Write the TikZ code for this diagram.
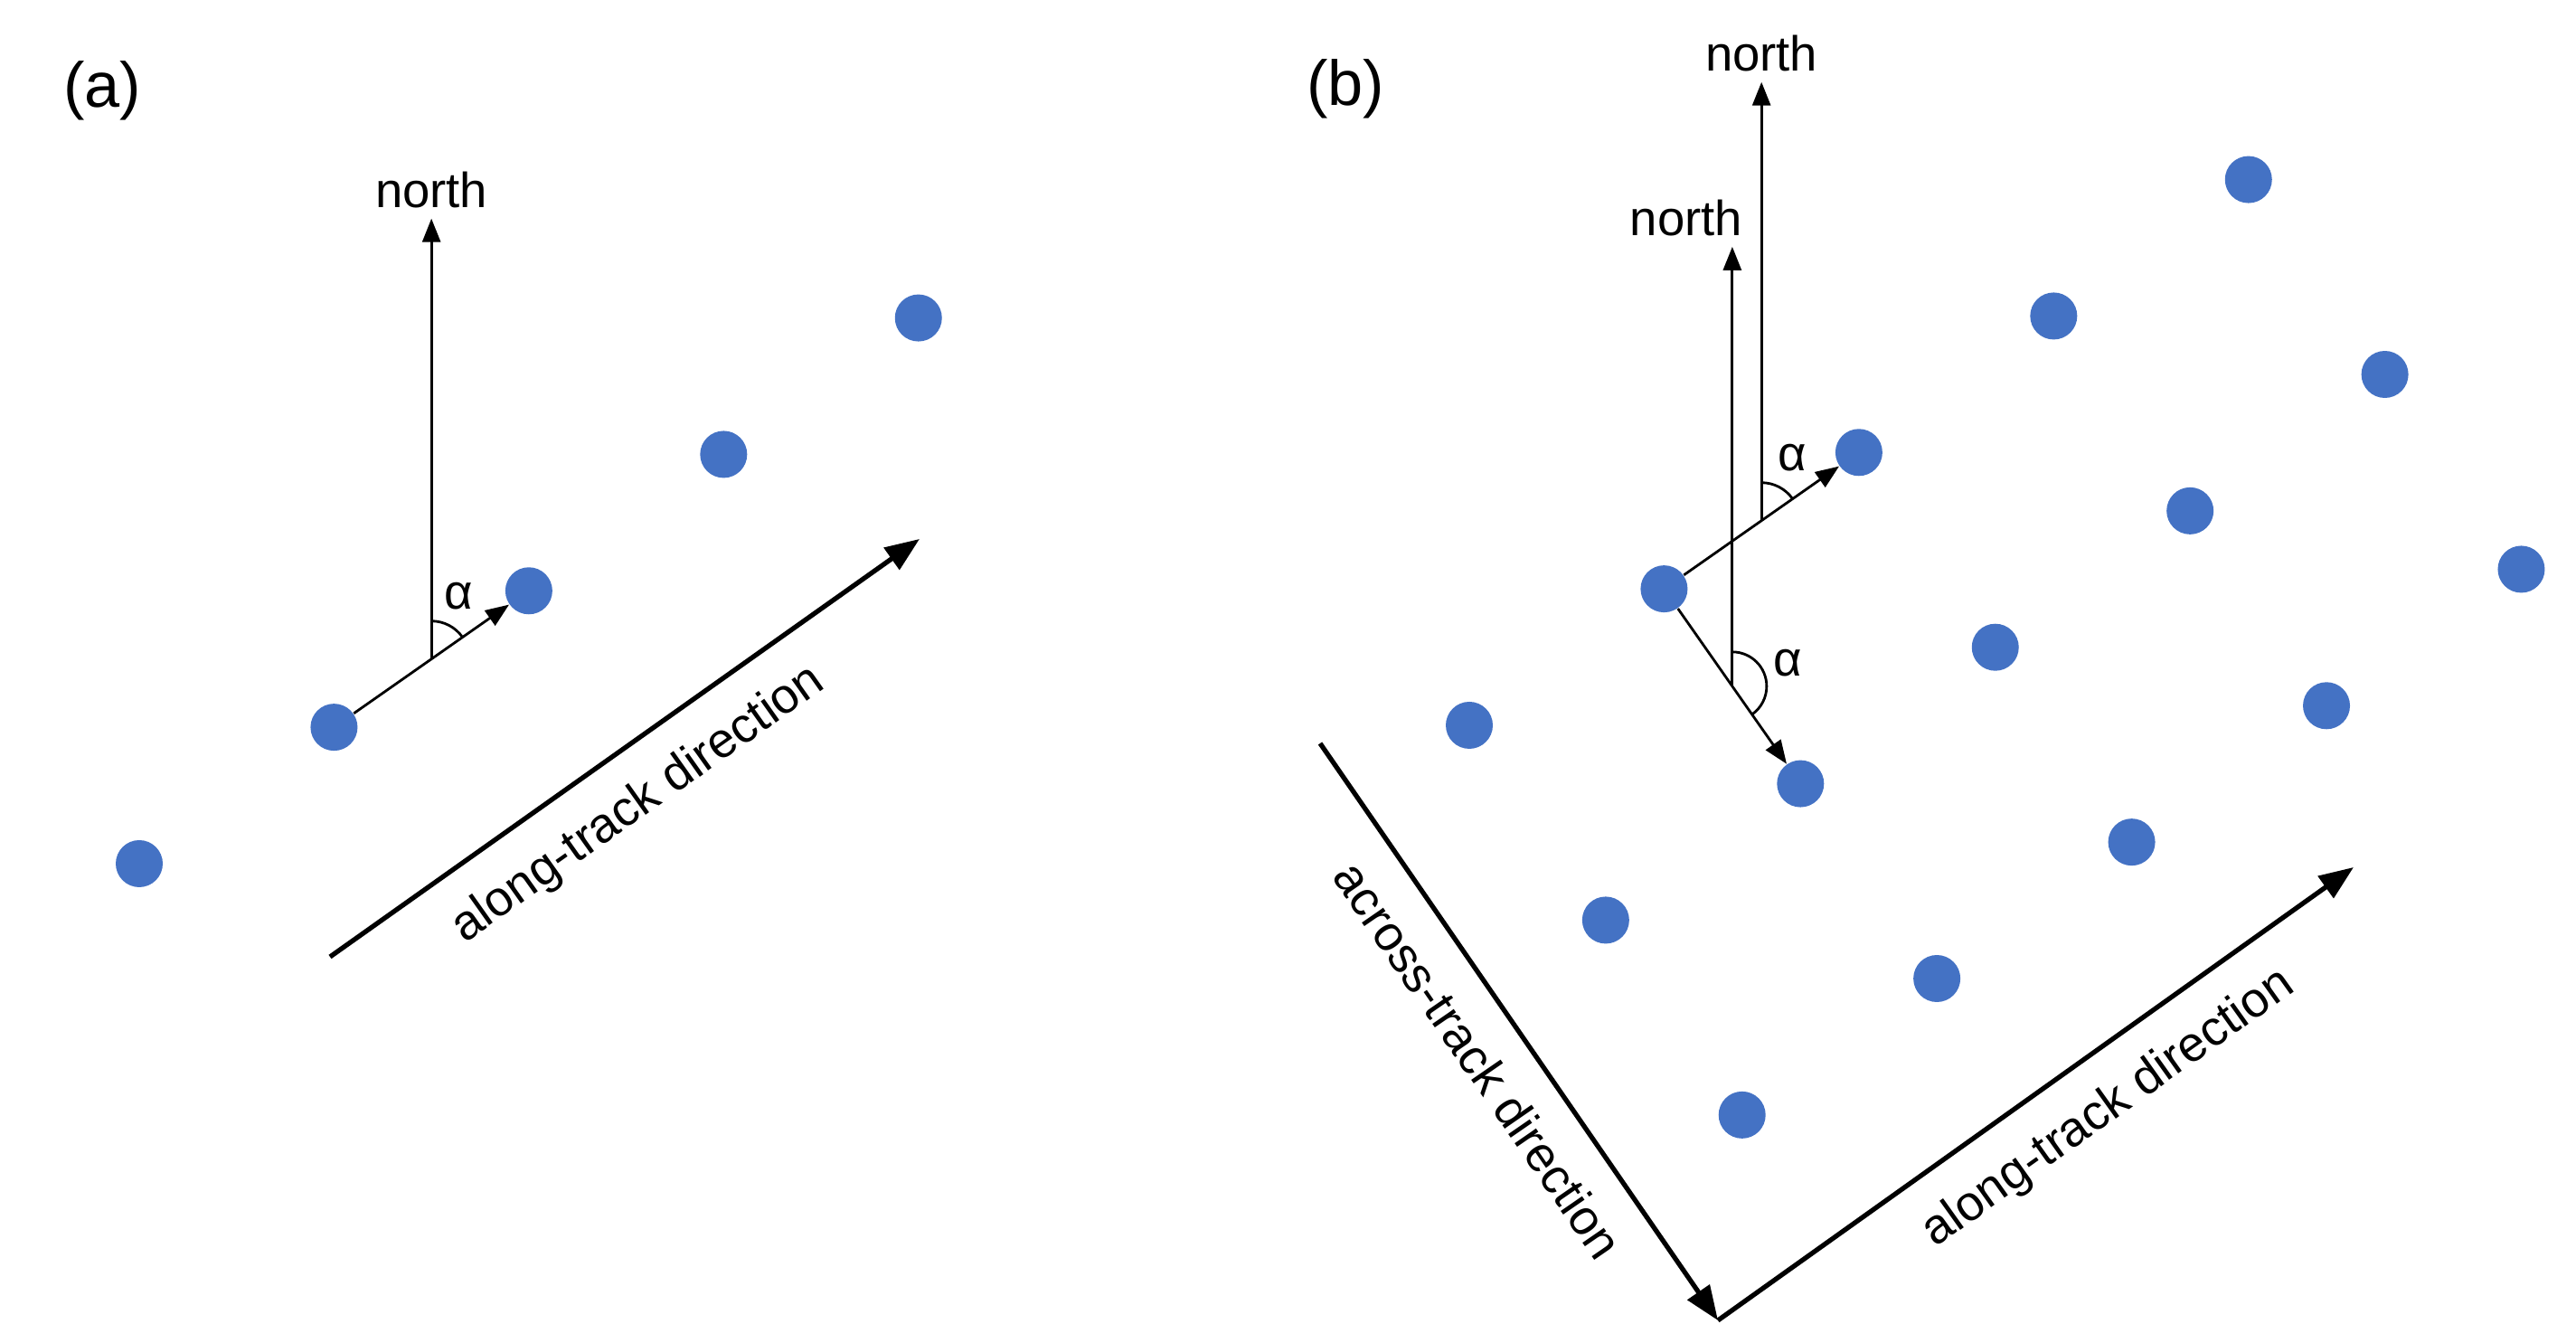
\documentclass[tikz,border=0pt]{standalone}
\usepackage{fontspec}
\setmainfont{Liberation Sans}
\usetikzlibrary{
	arrows.meta,
	positioning,
	calc
}
\definecolor{dotblue}{RGB}{68,114,196}

\begin{document}
\begin{tikzpicture}[
	dot/.style={circle, fill=dotblue, inner sep=0pt, minimum size=0.52cm},
	lbl/.style={font=\fontsize{15.5}{18}\selectfont},
	thinarrow/.style={line width=0.8pt, -{Triangle[length=0.26cm, width=0.2cm]}},
	trackarrow/.style={line width=1.5pt, -{Triangle[length=0.38cm, width=0.29cm]}},
	trackdir/.style={lbl, sloped, below, inner ysep=0.32cm},
	anglearc/.style={line width=0.8pt}
	]

		\useasboundingbox (0,0) rectangle (28.49,14.85);

		\node[font=\fontsize{20}{24}\selectfont] (La) at (1.13,13.85) {(a)};

		\coordinate (A0) at (1.54,5.30);
		\foreach \i in {0,...,4}
			\node[dot] (P\i) at ($(A0)+\i*(35:2.63)$) {};

		\draw[thinarrow] (P1) -- (P2);
		\coordinate (N1) at ($(P1)!.5!(P2)$);
		\coordinate [above=4.87 of N1] (N1t);
		\draw[thinarrow] (N1) -- (N1t) node[lbl, above, inner sep=3pt] {north};
		\draw[anglearc] ($(N1)+(90:0.42)$) arc[start angle=90, end angle=35, radius=0.42];
		\node[lbl] (al1) at ($(N1)+(0.30,0.70)$) {α};

		\coordinate (A1) at (3.65,4.27);
		\coordinate (A2) at (10.17,8.89);
		\draw[trackarrow] (A1) -- node[trackdir, pos=.47] {along-track direction} (A2);

		\begin{scope}[xshift=14.71cm]
			\node[font=\fontsize{20}{24}\selectfont] (Lb) at (0.17,13.87) {(b)};

			\coordinate (B0) at (1.54,6.83);
			\foreach \i in {0,...,4}
				\foreach \j in {0,1,2}
					\node[dot] (Q\i\j) at ($(B0)+\i*(35:2.63)+\j*(-55:2.63)$) {};

			\draw[thinarrow] (Q10) -- (Q20);
			\draw[thinarrow] (Q10) -- (Q11);

			\coordinate (N2) at ($(Q10)!.5!(Q20)$);
			\coordinate [above=4.85 of N2] (N2t);
			\draw[thinarrow] (N2) -- (N2t) node[lbl, above, inner sep=3pt] {north};
			\draw[anglearc] ($(N2)+(90:0.42)$) arc[start angle=90, end angle=35, radius=0.42];
			\node[lbl] (al2) at ($(N2)+(0.34,0.70)$) {α};

			\coordinate (N3) at ($(Q10)!.5!(Q11)$);
			\coordinate [above=4.86 of N3] (N3t);
			\draw[thinarrow] (N3) -- (N3t) node[lbl, above, inner sep=3pt, xshift=-0.51cm] {north};
			\draw[anglearc] ($(N3)+(90:0.38)$) arc[start angle=90, end angle=-55, radius=0.38];
			\node[lbl] (al3) at ($(N3)+(0.61,0.26)$) {α};

			\coordinate (B1) at (-0.11,6.63);
			\coordinate (B2) at (4.29,0.25);
			\coordinate (B3) at (11.32,5.26);
			\draw[trackarrow] (B1) -- node[trackdir] {across-track direction} (B2);
			\draw[trackarrow] (B2) -- node[trackdir, pos=.565] {along-track direction} (B3);
		\end{scope}

	\end{tikzpicture}
\end{document}
